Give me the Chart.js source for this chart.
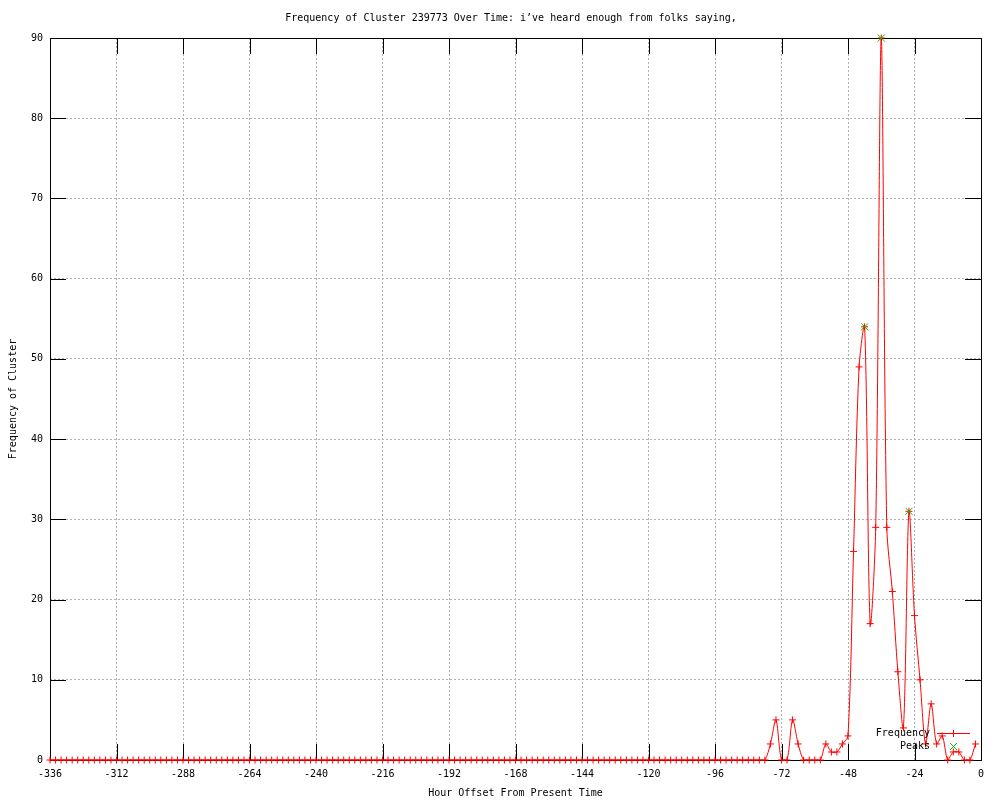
<!DOCTYPE html>
<html>
<head>
<meta charset="utf-8">
<script src="https://cdn.jsdelivr.net/npm/chart.js@4/dist/chart.umd.min.js"></script>
<style>
  html, body { margin: 0; background: #fff; }
</style>
</head>
<body>
<canvas id="myChart" width="1000" height="800"></canvas>
<script>
var chartTitle = 'Frequency of Cluster 239773 Over Time: i\u2019ve heard enough from folks saying,';
var xTitle = 'Hour Offset From Present Time';
var yTitle = 'Frequency of Cluster';

// one sample every 2 hours, from -336 up to -2
var firstHour = -336;
var stepHours = 2;

// frequency per sample
var freqValues = [
    0, 0, 0, 0, 0, 0, 0, 0, 0, 0,
    0, 0, 0, 0, 0, 0, 0, 0, 0, 0,
    0, 0, 0, 0, 0, 0, 0, 0, 0, 0,
    0, 0, 0, 0, 0, 0, 0, 0, 0, 0,
    0, 0, 0, 0, 0, 0, 0, 0, 0, 0,
    0, 0, 0, 0, 0, 0, 0, 0, 0, 0,
    0, 0, 0, 0, 0, 0, 0, 0, 0, 0,
    0, 0, 0, 0, 0, 0, 0, 0, 0, 0,
    0, 0, 0, 0, 0, 0, 0, 0, 0, 0,
    0, 0, 0, 0, 0, 0, 0, 0, 0, 0,
    0, 0, 0, 0, 0, 0, 0, 0, 0, 0,
    0, 0, 0, 0, 0, 0, 0, 0, 0, 0,
    0, 0, 0, 0, 0, 0, 0, 0, 0, 0,
    // -76 .. -2
    2, 5, 0, 0, 5, 2, 0, 0, 0, 0,
    2, 1, 1, 2, 3, 26, 49, 54, 17, 29,
    90, 29, 21, 11, 4, 31, 18, 10, 2, 7,
    2, 3, 0, 1, 1, 0, 0, 2
];

var peakHours = [-42, -36, -26];
var peakValues = [54, 90, 31];

var xTicks = [-336, -312, -288, -264, -240, -216, -192, -168, -144, -120, -96, -72, -48, -24, 0];
var yTicks = [0, 10, 20, 30, 40, 50, 60, 70, 80, 90];

var freqPoints = [];
for (var i = 0; i < freqValues.length; i++) {
    freqPoints.push({ x: firstHour + i * stepHours, y: freqValues[i] });
}
var peakPoints = [];
for (var j = 0; j < peakHours.length; j++) {
    peakPoints.push({ x: peakHours[j], y: peakValues[j] });
}

var FONT = '"DejaVu Sans Mono", "Liberation Mono", monospace';
var RED = '#ff0000';
var GREEN = '#00c000';
var GRID = '#b0b0b0';

Chart.defaults.font.family = FONT;
Chart.defaults.font.size = 10;
Chart.defaults.color = '#000';

// gnuplot style frame with inward ticks on all four sides
var frameTicks = {
    id: 'frameTicks',
    beforeDatasetsDraw: function (chart) {
        var ctx = chart.ctx, a = chart.chartArea, sx = chart.scales.x, sy = chart.scales.y;
        ctx.save();
        ctx.setLineDash([]);
        ctx.strokeStyle = '#000';
        ctx.lineWidth = 1;
        ctx.beginPath();
        sx.ticks.forEach(function (t) {
            var px = Math.round(sx.getPixelForValue(t.value)) + 0.5;
            ctx.moveTo(px, a.bottom); ctx.lineTo(px, a.bottom - 16);
            ctx.moveTo(px, a.top); ctx.lineTo(px, a.top + 16);
        });
        sy.ticks.forEach(function (t) {
            var py = Math.round(sy.getPixelForValue(t.value)) + 0.5;
            ctx.moveTo(a.left, py); ctx.lineTo(a.left + 16, py);
            ctx.moveTo(a.right, py); ctx.lineTo(a.right - 16, py);
        });
        ctx.stroke();
        ctx.strokeRect(Math.round(a.left) + 0.5, Math.round(a.top) + 0.5,
            Math.round(a.right - a.left), Math.round(a.bottom - a.top));
        ctx.restore();
    }
};

// key in the lower right corner, like gnuplot
var cornerKey = {
    id: 'cornerKey',
    afterDatasetsDraw: function (chart) {
        var ctx = chart.ctx, a = chart.chartArea;
        var tx = a.right - 51, cx = Math.round(a.right - 28);
        var y1 = Math.round(a.bottom - 27), y2 = Math.round(a.bottom - 14);
        ctx.save();
        ctx.font = '10px ' + FONT;
        ctx.textAlign = 'right';
        ctx.textBaseline = 'middle';
        ctx.fillStyle = '#000';
        ctx.fillText(chart.data.datasets[1].label, tx, y1);
        ctx.fillText(chart.data.datasets[0].label, tx, y2);

        ctx.setLineDash([]);
        ctx.lineWidth = 1;
        ctx.strokeStyle = RED;
        ctx.beginPath();
        ctx.moveTo(a.right - 44, y1 + 0.5); ctx.lineTo(a.right - 11, y1 + 0.5);
        ctx.moveTo(cx + 0.5, y1 - 3); ctx.lineTo(cx + 0.5, y1 + 4);
        ctx.stroke();

        ctx.strokeStyle = GREEN;
        ctx.beginPath();
        ctx.moveTo(cx - 3, y2 - 3); ctx.lineTo(cx + 4, y2 + 4);
        ctx.moveTo(cx + 4, y2 - 3); ctx.lineTo(cx - 3, y2 + 4);
        ctx.stroke();
        ctx.restore();
    }
};

const ctx = document.getElementById('myChart').getContext('2d');
const myChart = new Chart(ctx, {
    type: 'line',
    data: {
        datasets: [{
            label: 'Peaks',
            data: peakPoints,
            showLine: false,
            order: 0,
            pointStyle: 'crossRot',
            pointRadius: 5,
            pointBorderWidth: 1,
            pointBorderColor: GREEN,
            pointBackgroundColor: GREEN,
            clip: false
        }, {
            label: 'Frequency',
            data: freqPoints,
            order: 1,
            borderColor: RED,
            borderWidth: 1,
            tension: 0.3,
            fill: false,
            pointStyle: 'cross',
            pointRadius: 3.5,
            pointBorderWidth: 1,
            pointBorderColor: RED,
            clip: false
        }]
    },
    options: {
        responsive: false,
        animation: false,
        events: [],
        layout: { padding: { left: 22, right: 0, top: 0, bottom: 0 } },
        plugins: {
            legend: { display: false },
            tooltip: { enabled: false },
            title: {
                display: true,
                text: chartTitle,
                color: '#000',
                font: { family: FONT, size: 10, weight: 'normal' },
                padding: { top: 12, bottom: 14 }
            }
        },
        scales: {
            x: {
                type: 'linear',
                min: -336,
                max: 0,
                afterBuildTicks: function (s) {
                    s.ticks = xTicks.map(function (v) { return { value: v }; });
                },
                afterFit: function (s) { s.height = 40; },
                ticks: {
                    padding: 8,
                    maxRotation: 0,
                    autoSkip: false,
                    callback: function (v) { return String(v); }
                },
                grid: { color: GRID, drawTicks: false },
                border: { display: false, dash: [2, 2] },
                title: { display: true, text: xTitle, padding: { top: 0, bottom: 1 } }
            },
            y: {
                min: 0,
                max: 90,
                afterBuildTicks: function (s) {
                    s.ticks = yTicks.map(function (v) { return { value: v }; });
                },
                afterFit: function (s) { s.width = 28; },
                ticks: {
                    padding: 7,
                    callback: function (v) { return String(v); }
                },
                grid: { color: GRID, drawTicks: false },
                border: { display: false, dash: [2, 2] },
                title: { display: true, text: yTitle, padding: { top: -15, bottom: 0 } }
            },
            yRight: {
                position: 'right',
                display: true,
                afterFit: function (s) { s.width = 19; },
                ticks: { display: false },
                grid: { display: false },
                border: { display: false }
            }
        }
    },
    plugins: [frameTicks, cornerKey]
});
</script>
</body>
</html>
